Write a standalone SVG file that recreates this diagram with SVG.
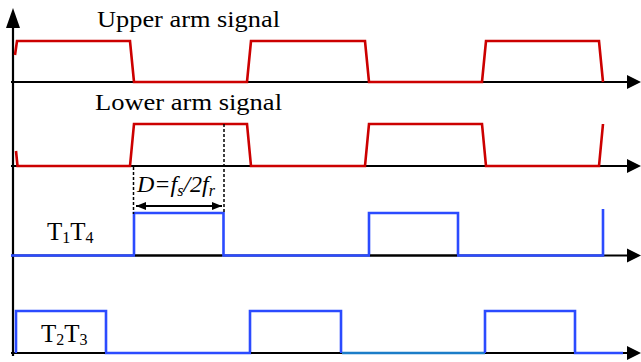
<svg xmlns="http://www.w3.org/2000/svg" width="641" height="362" viewBox="0 0 641 362">
<style>
.axis{stroke:#000;stroke-width:2.2;fill:none}
.ah{fill:#000}
.red{stroke:#cc0000;stroke-width:2.6;fill:none;stroke-linejoin:miter}
.blue{stroke:#2b4bff;stroke-width:2.6;fill:none}
.teal{stroke:#1b7dc8;stroke-width:2.6;fill:none}
.dash{stroke:#000;stroke-width:1.5;stroke-dasharray:3 2;fill:none}
</style>
<defs>
<marker id="dar" markerWidth="10" markerHeight="8" refX="10" refY="4" orient="auto" markerUnits="userSpaceOnUse">
<path d="M0,0 L10,4 L0,8 z" fill="#000"/>
</marker>
<marker id="dal" markerWidth="10" markerHeight="8" refX="0" refY="4" orient="auto" markerUnits="userSpaceOnUse">
<path d="M10,0 L0,4 L10,8 z" fill="#000"/>
</marker>
</defs>
<g id="axes">
<line class="axis" x1="13" y1="26" x2="13" y2="356"/>
<polygon class="ah" points="13,8 6,28 20,28"/>
<line class="axis" x1="11" y1="82" x2="630" y2="82"/>
<polygon class="ah" points="641,82 627,75 627,89"/>
<line class="axis" x1="11" y1="166" x2="630" y2="166"/>
<polygon class="ah" points="641,166 627,159 627,173"/>
<line class="axis" x1="11" y1="255.5" x2="630" y2="255.5"/>
<polygon class="ah" points="641,255.5 627,248.5 627,262.5"/>
<line class="axis" x1="11" y1="353" x2="630" y2="353"/>
<polygon class="ah" points="641,353 627,346 627,360"/>
</g>
<g id="upper-arm">
<polyline class="red" points="15,55 17,41 130,41 134,82 247,82 251,41 365,41 369,82 482,82 486,41 599,41 603,82"/>
<text x="97" y="27" font-family="Liberation Serif, serif" font-size="24" fill="#000" textLength="183" lengthAdjust="spacingAndGlyphs">Upper arm signal</text>
</g>
<g id="lower-arm">
<polyline class="red" points="16,151 17.5,166 130,166 134,124 247,124 251,166 365,166 369,124 482,124 486,166 599,166 603,124"/>
<text x="95" y="110" font-family="Liberation Serif, serif" font-size="24" fill="#000" textLength="187" lengthAdjust="spacingAndGlyphs">Lower arm signal</text>
</g>
<g id="t1t4">
<polyline class="blue" points="11,255.5 134,255.5 134,213 223.5,213 223.5,255.5 369,255.5 369,213 458,213 458,255.5 603,255.5 603,209"/>
<line class="axis" x1="135" y1="255.5" x2="222" y2="255.5"/>
<line class="axis" x1="370" y1="255.5" x2="457" y2="255.5"/>
<text x="47" y="240" font-family="Liberation Serif, serif" font-size="25" fill="#000">T<tspan font-size="16" dy="3">1</tspan><tspan dy="-3">T</tspan><tspan font-size="16" dy="3">4</tspan></text>
</g>
<g id="t2t3">
<polyline class="blue" points="16,353 16,311 106,311 106,353 250,353 250,311 341,311 341,353"/>
<line class="teal" x1="342" y1="353" x2="485" y2="353"/>
<polyline class="blue" points="485,353 485,311 575,311 575,353 623,353"/>
<line class="axis" x1="17" y1="353" x2="105" y2="353"/>
<line class="axis" x1="251" y1="353" x2="340" y2="353"/>
<line class="axis" x1="486" y1="353" x2="574" y2="353"/>
<text x="41" y="342" font-family="Liberation Serif, serif" font-size="25" fill="#000">T<tspan font-size="16" dy="3">2</tspan><tspan dy="-3">T</tspan><tspan font-size="16" dy="3">3</tspan></text>
</g>
<g id="connectors">
<line class="dash" x1="133.5" y1="167" x2="133.5" y2="214"/>
<line class="dash" x1="224" y1="124" x2="224" y2="214"/>
<line stroke="#000" stroke-width="2" x1="136" y1="206" x2="222" y2="206" marker-start="url(#dal)" marker-end="url(#dar)"/>
<text x="137" y="192" font-family="Liberation Serif, serif" font-size="24" font-style="italic" fill="#000">D=f<tspan font-size="16" dy="4">s</tspan><tspan dy="-4">/2f</tspan><tspan font-size="16" dy="4">r</tspan></text>
</g>
</svg>
